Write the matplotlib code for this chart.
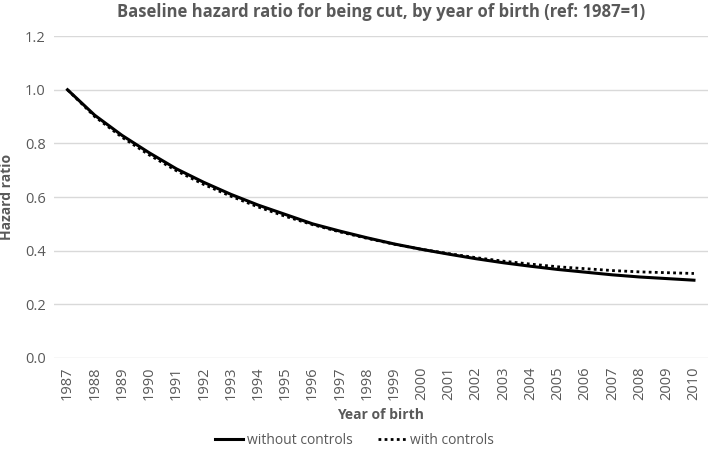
import matplotlib
matplotlib.use('Agg')
import matplotlib.pyplot as plt

plt.rcParams['font.family'] = ['Open Sans', 'DejaVu Sans']

years = list(range(1987, 2011))
without_controls = [1.0, 0.905, 0.83, 0.765, 0.705, 0.655, 0.61, 0.57, 0.535, 0.50,
                    0.473, 0.448, 0.425, 0.405, 0.387, 0.37, 0.355, 0.342, 0.33, 0.32,
                    0.31, 0.302, 0.296, 0.29]
with_controls = [1.0, 0.90, 0.823, 0.757, 0.698, 0.647, 0.603, 0.563, 0.528, 0.497,
                 0.47, 0.446, 0.424, 0.405, 0.389, 0.374, 0.361, 0.35, 0.34, 0.333,
                 0.326, 0.321, 0.318, 0.315]
yticks = [0.0, 0.2, 0.4, 0.6, 0.8, 1.0, 1.2]

grey = '#595959'
fig = plt.figure(figsize=(7.09, 4.54), dpi=100)
ax = fig.add_axes([0.076, 0.2115, 0.922, 0.709])

x = range(len(years))
ax.plot(x, without_controls, color='black', lw=2.2, label='without controls')
ax.plot(x, with_controls, color='black', lw=2.0, linestyle=(0, (1, 1.2)), label='with controls')

ax.set_xlim(-0.5, len(years) - 0.5)
ax.set_ylim(0, 1.2)
ax.set_yticks(yticks)
ax.set_yticklabels(['%.1f' % v for v in yticks], fontsize=10.5, color=grey)
ax.set_xticks(list(x))
ax.set_xticklabels([str(y) for y in years], rotation=90, fontsize=10.5, color=grey)
ax.tick_params(length=0, pad=6)
ax.grid(axis='y', color='#d9d9d9', lw=1)
ax.set_axisbelow(True)
for s in ax.spines.values():
    s.set_visible(False)

ax.set_xlabel('Year of birth', fontsize=10, fontweight='bold', color=grey, labelpad=6)
ax.set_ylabel('Hazard ratio', fontsize=10, fontweight='bold', color=grey, labelpad=8)
ax.set_title('Baseline hazard ratio for being cut, by year of birth (ref: 1987=1)',
             fontsize=12, fontweight='bold', color=grey, pad=14)

leg = fig.legend(loc='lower center', bbox_to_anchor=(0.5, -0.015), ncol=2, frameon=False,
                 fontsize=10, handlelength=2.0, handletextpad=0.3, columnspacing=1.8)
for t in leg.get_texts():
    t.set_color(grey)

fig.savefig('out.png', dpi=100)
